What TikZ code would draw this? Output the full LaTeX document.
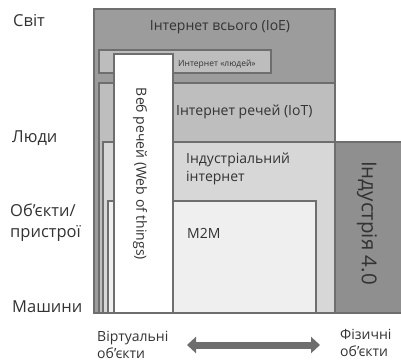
\documentclass[tikz,border=0pt]{standalone}
\usepackage{fontspec}
\setmainfont{Open Sans}
\usetikzlibrary{arrows.meta}
\definecolor{edge}{HTML}{6E6E6E}
\definecolor{ioe}{HTML}{9C9C9C}
\definecolor{people}{HTML}{BDBDBD}
\definecolor{iot}{HTML}{BEBEBE}
\definecolor{indnet}{HTML}{D7D7D7}
\definecolor{mtm}{HTML}{EFEFEF}
\definecolor{ind}{HTML}{8F8F8F}
\definecolor{ink}{HTML}{333333}
\tikzset{
  box/.style={draw=edge, line width=1.3pt},
  side/.style={anchor=west, inner sep=0pt, text=ink, font=\fontsize{16.5}{18}\selectfont},
  inlabel/.style={inner sep=0pt, text=ink, font=\fontsize{14}{18}\selectfont},
  foot/.style={anchor=west, inner sep=0pt, text=ink, align=left, font=\fontsize{14}{17}\selectfont},
}
\begin{document}
\begin{tikzpicture}[x=1pt,y=-1pt]
\useasboundingbox (0,0) rectangle (401,363);
\fill[white] (0,0) rectangle (401,363);

% nested layers, each reaching the baseline of machines
\draw[box, fill=ioe]    (94,9)   rectangle (335,313);
\draw[box, fill=people] (99,50)  rectangle (271,73);
\draw[box, fill=iot]    (99,83)  rectangle (335,313);
\draw[box, fill=indnet] (103,142) rectangle (335,313);
\draw[box, fill=mtm]    (108,201) rectangle (316,313);
\draw[box, fill=white]  (114,54) rectangle (173,313);
\draw[box, fill=ind]    (335,142) rectangle (402,313);

% layer labels
\node[inlabel] (ioe) at (220,27) {Інтернет всього (IoE)};
\node[inlabel, anchor=west, font=\fontsize{8.5}{10}\selectfont] (ppl) at (178,64) {Интернет «людей»};
\node[inlabel, anchor=west] (iot) at (176,112) {Інтернет речей (IoT)};
\node[inlabel, anchor=north west, align=left] (inet) at (186,153) {Індустріальний\\інтернет};
\node[inlabel, anchor=west] (m2m) at (187,233) {M2M};
\node[inlabel, rotate=-90] (wot) at (140,174) {Веб речей (Web of things)};
\node[inlabel, rotate=-90, font=\fontsize{20.5}{24}\selectfont] (i40) at (367,223) {Індустрія 4.0};

% level captions
\node[side] (world) at (13,21) {Світ};
\node[side] (people) at (12,138) {Люди};
\node[side] (objs) at (10,210) {Об'єкти/};
\node[side] (dev) at (10,233) {пристрої};
\node[side] (mach) at (12,307) {Машини};

% axis from virtual to physical
\node[foot] (virt) at (97,345) {Віртуальні\\об'єкти};
\node[foot] (phys) at (340,343) {Фізичні\\об'єкти};
\coordinate (aL) at (187,345);
\coordinate (aR) at (320,345);
\draw[line width=7pt, draw=edge, {Triangle[width=16pt,length=9pt]}-{Triangle[width=16pt,length=9pt]}] (aL) -- (aR);
\end{tikzpicture}
\end{document}
